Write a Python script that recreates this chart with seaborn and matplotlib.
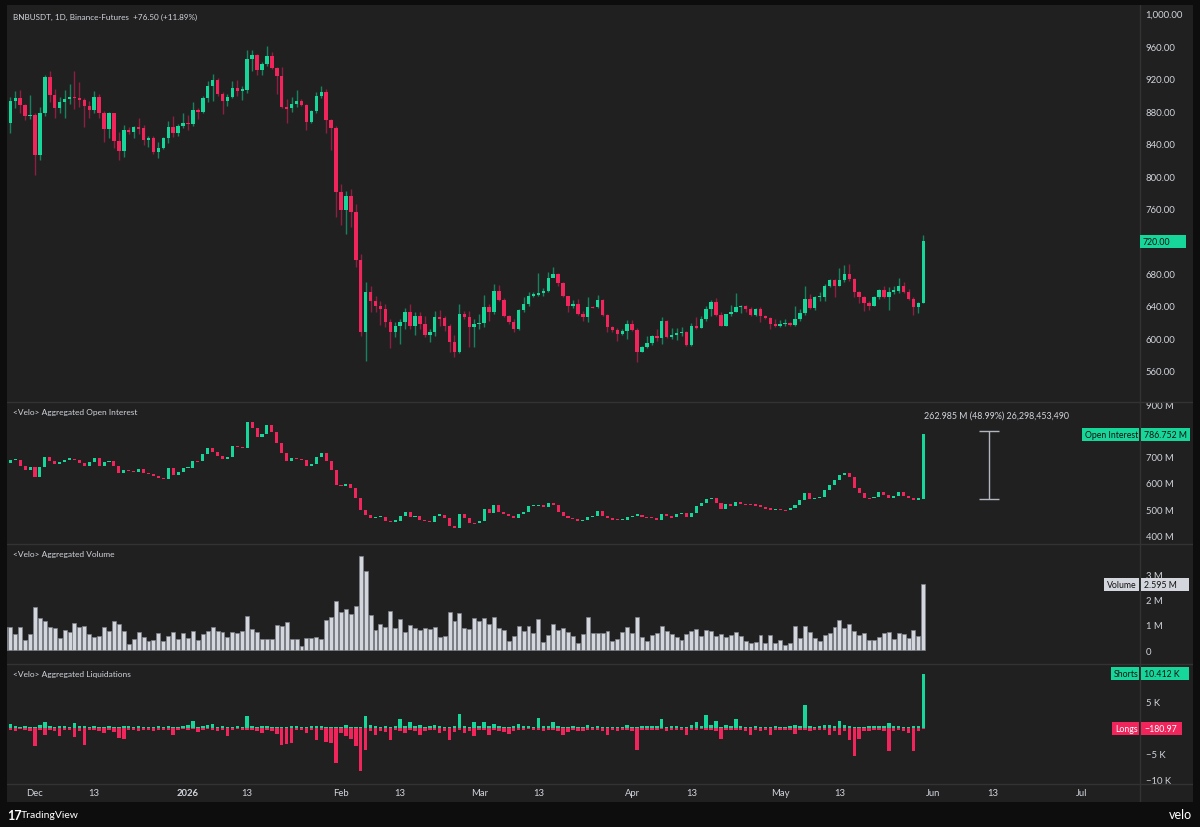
import numpy as np
import pandas as pd
import matplotlib
matplotlib.use("Agg")
import matplotlib.pyplot as plt
from matplotlib.patches import Rectangle
from matplotlib.lines import Line2D
import seaborn as sns

# ==============================
# Data (days counted from 2025-12-01, one daily candle each)
# ==============================
day = list(range(-6, 181))

price_open0 = 867.0
price_close = [
    865, 891.9, 895.6, 887.8, 873.4, 875, 826.2, 877, 921.4, 900,
    883.3, 890.7, 894.8, 897.6, 896.5, 893.5, 885.7, 881, 897.6, 877.5,
    857.8, 877.5, 843, 830.3, 856.6, 854.5, 859.9, 858.7, 844.7, 847.2,
    829, 834.9, 846.4, 859.9, 852.5, 861.9, 865.2, 864, 881.6, 879.2,
    895.6, 911.2, 918.5, 900.9, 891.9, 897.6, 908.3, 905, 906, 944,
    949, 931, 937.8, 947.3, 932.5, 923.5, 884.5, 883.7, 888.6, 891.9,
    887.8, 866, 880.4, 898.8, 903.8, 868.9, 858.6, 780.7, 758.6, 775,
    755.3, 697, 608.4, 656.8, 646.5, 639.6, 636.3, 619.9, 608.4, 615,
    619.9, 633, 615, 628.1, 617.8, 604.3, 608.4, 626.1, 624.8, 615,
    596, 583, 630.2, 626, 613.7, 617.8, 618.6, 638.4, 633, 658.9,
    647.8, 627.3, 619.9, 611.7, 635, 642.5, 652.7, 653.5, 656, 658,
    674, 679.4, 668.3, 651.9, 639.6, 642.4, 630.2, 626.1, 639.2, 638.4,
    647.8, 629, 613.7, 610.8, 605.5, 609.6, 617.8, 610.9, 583.8, 590,
    594.5, 602.7, 600.6, 622, 601.4, 604.3, 606.8, 608.4, 592, 615.8,
    612.5, 624, 636.3, 644.5, 628.9, 615.8, 630.2, 633, 638.4, 639.6,
    636.3, 628.9, 636.3, 627.3, 624.8, 617.8, 615.8, 617.8, 619.1, 616.6,
    624, 631.4, 648.6, 637.1, 650.7, 651.5, 665, 672.4, 665, 672.4,
    679.4, 673.2, 656.8, 650.7, 643.7, 640.4, 650.7, 659.7, 650.7, 657.6,
    658.0, 664.2, 656.8, 648.6, 638.4, 643.4, 719.9,
]
price_high = [
    870, 897.6, 905, 906, 889, 900, 877.5, 884.5, 924.3, 928.8,
    907, 897.6, 905.8, 913, 928.8, 916, 895.6, 892.7, 905, 900.9,
    880.4, 879, 876.3, 853.7, 862.8, 860, 861, 871.8, 862.8, 849.6,
    849.6, 841.4, 847.6, 868, 873.4, 864, 877.5, 875, 891.5, 883.3,
    898, 917.3, 925.5, 920.2, 903, 900.9, 916.5, 918, 911, 955,
    955.5, 950, 940, 960.4, 953, 933.7, 933.7, 894.8, 897.6, 905.8,
    894.8, 888.6, 881.6, 903, 911.2, 907, 870, 861, 790, 782,
    784, 765.5, 704, 670, 664, 652.7, 646.5, 642.4, 624, 620.7,
    624, 637.1, 642.4, 632.2, 632.2, 628.1, 611.7, 634.3, 635.5, 628.1,
    617.9, 604.3, 642.5, 634.3, 634.3, 624, 630.2, 653.5, 642.5, 667.1,
    665.8, 649.4, 628.9, 624, 636.3, 650.7, 657.6, 657.6, 680.6, 661.7,
    681.4, 687.6, 680.6, 669.1, 652.7, 647.8, 648.6, 634.3, 650.7, 640.4,
    653.5, 648.6, 630.2, 615.8, 612.5, 611.7, 622.8, 623.2, 612.5, 591.2,
    603.5, 604.3, 611.7, 626.1, 623.2, 612.5, 612.5, 613.7, 609.6, 618.7,
    626.1, 628.1, 639.6, 647.8, 649.4, 632.2, 630.2, 641.2, 656, 641.2,
    641.2, 638.4, 637.1, 638.4, 628.9, 626.1, 624, 623.2, 624, 619.9,
    639.6, 636.3, 665, 654.8, 652.7, 657.6, 667.1, 673.2, 673.2, 686.4,
    690.5, 691.7, 674, 658.9, 651.9, 646.6, 652.7, 660.9, 664.2, 663,
    664.2, 674, 669.1, 660.9, 650.7, 645.3, 727.4,
]
price_low = [
    858, 852.5, 884, 877, 869, 870, 801.6, 820, 874, 890.7,
    871, 878, 871, 888.6, 882.4, 884.5, 859.9, 871, 877.5, 871,
    841.4, 846.4, 834, 819.7, 823, 851.7, 846.4, 851.7, 838, 835.3,
    827, 821.7, 833.2, 840.6, 847.6, 849.6, 858.7, 857, 861, 870,
    877.5, 890.7, 892.7, 898.8, 876.3, 886.6, 895.6, 898, 894, 902,
    929.6, 924.3, 924.3, 935.8, 931.7, 900.9, 884, 864.8, 878.4, 884.5,
    886.6, 857, 865.2, 877.5, 895.6, 852.9, 832.4, 749.2, 739.7, 728.6,
    736.8, 687.6, 603.5, 572.3, 632.2, 632.2, 616.6, 613.7, 587.9, 601.4,
    593.2, 611.7, 611.7, 604.3, 611.7, 601.4, 596.1, 602.7, 615.8, 609.6,
    583.8, 577.6, 582.2, 624, 589.1, 589.1, 611.7, 613.7, 622, 630.2,
    646.6, 626.1, 617.9, 608.4, 610.9, 633, 640.4, 650.7, 651.9, 651.9,
    656.8, 675.3, 665, 650.7, 633, 637.1, 628.9, 621.9, 620.7, 637.1,
    637.1, 628.1, 607.6, 607.6, 597.3, 604.3, 599.4, 609.6, 571.5, 583,
    587.9, 592, 597.3, 593.2, 600.2, 599.4, 598.6, 603.5, 591.2, 591.2,
    611.7, 612.5, 622, 627.3, 627.3, 615, 615.8, 628.1, 632.2, 631.4,
    633, 628.1, 628.1, 620.7, 624, 611.7, 614.6, 613.7, 615, 615.8,
    615.8, 622, 628.9, 636.3, 635.5, 646.6, 646.6, 663, 650.7, 664.2,
    669.1, 671.2, 650.7, 643.7, 634.3, 635.5, 639.6, 648.6, 649.4, 635.5,
    654.8, 656, 656, 647.8, 628.9, 631.4, 643.7,
]

# aggregated open interest, millions
oi_open0 = 670.0
oi_close = [
    677, 688.5, 688.5, 666.7, 650, 660.3, 624.4, 660.3, 701.3, 683.4,
    673, 682, 689.8, 692.3, 687, 677, 664, 679.5, 696, 666.7,
    679.5, 686, 666.7, 638.5, 651.3, 646, 643.6, 653.9, 638.5, 633.4,
    625.7, 618, 615.4, 657.7, 632, 641, 656.4, 657.7, 683.4, 683,
    711.6, 733.3, 718, 702.6, 692.3, 698.7, 743.6, 737.2, 734.7, 835.9,
    810.3, 775.7, 788.5, 823.1, 797.5, 753.9, 714.1, 685.9, 696.2, 692.3,
    689.8, 666.7, 673, 698.7, 715.4, 685.9, 650, 593.6, 589.8, 596,
    579.5, 542.3, 496.2, 476.9, 464.1, 467.9, 468, 455, 451.3, 455,
    474.4, 487.2, 468, 474.4, 459, 452.6, 451.3, 474.4, 478, 464.1,
    435.9, 425.6, 480.8, 464.1, 446.2, 446, 455, 500, 483.3, 515.4,
    487.2, 480.8, 474.4, 464.1, 480.8, 487.2, 510.3, 512.8, 515.4, 506.4,
    521.8, 515.4, 489.7, 474.4, 465.4, 463, 452.6, 457.7, 467.9, 474.4,
    491, 471.8, 464.1, 461.5, 456.4, 459, 467.9, 474.4, 478, 470.5,
    469.9, 466.7, 459, 480.8, 471.8, 467.9, 480.8, 484.6, 467.9, 484.6,
    510.3, 523.1, 538.5, 541, 521.8, 500, 519.2, 512.8, 525.6, 520.5,
    519, 517.9, 515.4, 506.4, 503.8, 497.4, 501, 497.4, 496, 502.6,
    515.4, 534.6, 561.5, 538.5, 541, 545, 573, 593.6, 611.6, 630.8,
    638.5, 624.4, 579.5, 561.5, 542.3, 541, 547.4, 566.7, 555.1, 541,
    551.3, 564.1, 548.7, 542.3, 535.9, 540, 786.75,
]

# aggregated volume, millions
volume = [
    0.9, 0.92, 0.63, 0.92, 0.40, 0.63, 1.69, 1.26, 1.16, 0.90,
    0.86, 0.46, 0.79, 0.70, 1.05, 0.92, 0.95, 0.63, 0.50, 0.55,
    0.92, 0.74, 1.13, 1.01, 0.76, 0.24, 0.42, 0.70, 0.53, 0.37,
    0.41, 0.67, 0.37, 0.57, 0.70, 0.42, 0.66, 0.47, 0.76, 0.40,
    0.63, 0.76, 0.91, 0.76, 0.72, 0.51, 0.72, 0.67, 0.74, 1.36,
    0.82, 0.72, 0.42, 0.42, 0.42, 0.99, 0.96, 1.09, 0.45, 0.45,
    0.17, 0.49, 0.49, 0.51, 0.45, 1.19, 1.32, 1.94, 1.52, 1.62,
    1.42, 1.74, 3.70, 3.14, 1.38, 0.80, 1.03, 0.92, 1.55, 0.87,
    1.23, 0.72, 0.97, 0.87, 0.78, 0.87, 0.82, 0.92, 0.53, 0.55,
    1.52, 1.16, 1.48, 0.87, 0.83, 1.26, 1.16, 1.26, 1.03, 1.29,
    0.87, 0.79, 0.37, 0.57, 0.95, 0.74, 0.94, 0.67, 1.23, 0.30,
    0.61, 1.03, 0.79, 0.87, 0.72, 0.57, 0.29, 0.63, 1.32, 0.67,
    0.67, 0.66, 0.74, 0.37, 0.42, 0.71, 0.90, 0.66, 1.29, 0.50,
    0.34, 0.58, 0.69, 0.95, 0.74, 0.63, 0.50, 0.38, 0.63, 0.76,
    0.82, 0.57, 0.79, 0.74, 0.54, 0.63, 0.50, 0.58, 0.70, 0.55,
    0.37, 0.28, 0.33, 0.61, 0.29, 0.61, 0.29, 0.38, 0.21, 0.29,
    0.95, 0.47, 0.95, 0.71, 0.47, 0.36, 0.59, 0.67, 0.90, 1.17,
    0.86, 1.04, 0.74, 0.61, 0.69, 0.40, 0.41, 0.53, 0.67, 0.71,
    0.43, 0.66, 0.62, 0.49, 0.80, 0.57, 2.595,
]

# aggregated liquidations, thousands (shorts up, longs down)
liq_shorts = [
    0.8, 0.8, 0.4, 0.2, 0.3, 0.2, 0.1, 0.5, 1.15, 0.3,
    0.2, 0.3, 0.4, 0.2, 0.95, 0.3, 0.45, 0.2, 0.3, 0.1,
    0.2, 0.3, 0.1, 0.2, 0.45, 0.3, 0.2, 0.3, 0.2, 0.1,
    0.2, 0.3, 0.2, 0.3, 0.1, 0.2, 0.3, 0.5, 1.4, 0.2,
    0.3, 0.6, 0.75, 0.2, 0.3, 0.1, 0.2, 0.3, 0.2, 2.24,
    0.4, 0.2, 0.3, 0.45, 0.2, 0.1, 0.1, 0.2, 0.3, 0.3,
    0.2, 0.1, 0.3, 0.4, 0.3, 0.1, 0.1, 0.1, 0.2, 0.6,
    0.2, 0.1, 0.2, 2.24, 0.5, 0.3, 0.2, 0.45, 0.2, 0.3,
    1.8, 0.3, 1.15, 0.3, 0.6, 0.2, 0.3, 0.5, 0.3, 0.2,
    0.2, 0.3, 2.7, 0.3, 0.2, 1.15, 0.3, 1.15, 0.4, 0.75,
    0.3, 0.2, 0.2, 0.3, 0.75, 0.4, 0.3, 0.2, 1.9, 0.3,
    0.4, 1.15, 0.3, 0.2, 0.2, 0.3, 0.2, 0.2, 0.5, 0.2,
    0.3, 0.2, 0.1, 0.2, 0.1, 0.2, 0.6, 0.2, 0.1, 0.3,
    0.3, 0.4, 0.3, 1.8, 0.2, 0.3, 0.3, 0.2, 0.1, 0.5,
    1.15, 0.4, 2.56, 0.6, 1.3, 0.2, 0.5, 0.4, 1.8, 0.3,
    0.2, 0.2, 0.3, 0.2, 0.2, 0.2, 0.3, 0.2, 0.2, 0.3,
    0.6, 0.4, 4.36, 0.3, 0.2, 0.3, 0.6, 0.6, 0.3, 1.3,
    0.6, 0.3, 0.2, 0.2, 0.2, 0.3, 0.3, 0.4, 0.3, 0.96,
    0.3, 0.4, 0.2, 0.2, 0.45, 0.3, 10.412,
]
liq_longs = [
    -0.4, -0.3, -0.5, -0.2, -0.3, -0.6, -3.5, -0.4, -1.3, -0.3,
    -0.5, -1.6, -0.4, -0.3, -1.8, -0.5, -3.2, -0.4, -0.3, -0.5,
    -1.0, -0.4, -0.8, -1.9, -2.1, -0.3, -0.4, -0.5, -0.3, -0.3,
    -0.6, -0.3, -0.4, -0.3, -1.4, -0.3, -0.2, -0.3, -0.2, -0.8,
    -0.3, -0.2, -0.3, -0.5, -0.4, -1.6, -0.3, -0.2, -0.4, -0.3,
    -0.3, -0.6, -1.0, -0.3, -0.5, -1.2, -3.2, -3.1, -2.9, -0.4,
    -0.3, -0.9, -0.3, -2.4, -0.3, -2.7, -2.9, -6.7, -1.0, -1.6,
    -2.1, -3.5, -8.3, -4.2, -0.6, -1.3, -0.5, -0.8, -2.4, -0.4,
    -0.5, -1.0, -0.3, -0.5, -1.3, -0.6, -0.4, -0.3, -1.0, -0.5,
    -2.4, -0.8, -0.3, -1.0, -0.5, -1.6, -0.4, -0.3, -1.3, -0.4,
    -0.5, -0.8, -1.15, -0.6, -0.3, -0.3, -0.2, -0.4, -0.3, -0.5,
    -0.3, -0.3, -0.5, -1.4, -0.8, -0.3, -0.6, -0.5, -0.3, -0.4,
    -0.3, -0.6, -1.3, -0.4, -0.6, -0.3, -0.3, -0.5, -4.2, -0.4,
    -0.3, -0.3, -0.4, -0.2, -0.5, -0.3, -0.3, -0.4, -1.3, -0.3,
    -0.3, -0.2, -0.3, -0.3, -0.5, -2.2, -0.4, -0.3, -0.3, -0.3,
    -0.5, -1.3, -0.3, -0.6, -0.4, -1.4, -0.3, -0.3, -0.4, -0.3,
    -1.15, -0.3, -0.3, -0.5, -0.3, -0.3, -0.3, -1.3, -0.6, -1.3,
    -0.5, -2.4, -5.4, -2.2, -0.6, -0.5, -0.3, -0.3, -0.5, -4.4,
    -0.5, -0.4, -0.5, -1.0, -4.4, -0.6, -0.18,
]

date_ticks = [0, 12, 31, 43, 62, 74, 90, 102, 121, 133, 151, 163, 182, 194, 212]
date_labels = ["Dec", "13", "2026", "13", "Feb", "13", "Mar", "13",
               "Apr", "13", "May", "13", "Jun", "13", "Jul"]

# ==============================
# Style
# ==============================
PANE = "#202020"
OUTER = "#0d0d0d"
SEP = "#333333"
TEXT = "#d1d4dc"
UP = "#16d69a"
DOWN = "#f2245c"
UP_WICK = "#178260"
DOWN_WICK = "#8e1f40"
VOL = "#d4d6dd"

sns.set_style("dark", {"axes.facecolor": PANE, "figure.facecolor": PANE})
plt.rcParams["font.family"] = ["Lato", "DejaVu Sans"]
FS = 6.8   # axis numbers
FT = 6.0   # pane titles and tags

W_PX, H_PX = 1200, 828
fig = plt.figure(figsize=(12, 8.28), dpi=100, facecolor=PANE)

X0, X1 = 7, 1140


def add_pane(top, bottom):
    ax = fig.add_axes([X0 / W_PX, 1 - bottom / H_PX, (X1 - X0) / W_PX, (bottom - top) / H_PX])
    ax.set_facecolor(PANE)
    for s in ax.spines.values():
        s.set_visible(False)
    ax.grid(False)
    ax.yaxis.tick_right()
    ax.tick_params(axis="x", length=0, labelbottom=False)
    return ax


ax_p = add_pane(6, 403)
ax_oi = add_pane(403, 545)
ax_v = add_pane(545, 665)
ax_l = add_pane(665, 785)

x = np.array(day, dtype=float)


def candles(ax, o, h, l, c, width, min_h, wicks=True):
    o = np.asarray(o, float)
    c = np.asarray(c, float)
    up = c >= o
    if wicks:
        ax.vlines(x, l, h, colors=np.where(up, UP_WICK, DOWN_WICK), linewidth=1.0, zorder=2)
    body = c - o
    body = np.where(np.abs(body) < min_h, np.where(up, min_h, -min_h), body)
    ax.bar(x, body, bottom=o, width=width, color=np.where(up, UP, DOWN), linewidth=0, zorder=3)


# price candles
p_open = [price_open0] + price_close[:-1]
candles(ax_p, p_open, price_high, price_low, price_close, 0.7, 1.6)
ax_p.set_ylim(521.8, 1010.5)
pt = [560, 600, 640, 680, 760, 800, 840, 880, 920, 960, 1000]
ax_p.set_yticks(pt)
ax_p.set_yticklabels([f"{v:,.2f}" for v in pt])

# open interest candles
o_open = [oi_open0] + oi_close[:-1]
candles(ax_oi, o_open, None, None, oi_close, 0.62, 4.5, wicks=False)
ax_oi.set_ylim(365.4, 911.5)
ot = [400, 500, 600, 700, 900]
ax_oi.set_yticks(ot)
ax_oi.set_yticklabels([f"{v} M" for v in ot])

# measure tool
mx = 193.3
ax_oi.vlines(mx, 536.8, 799.8, color="#b2b5be", linewidth=1.0)
ax_oi.hlines([536.8, 799.8], mx - 2.1, mx + 2.1, color="#b2b5be", linewidth=1.0)

# volume
vol_df = pd.DataFrame({"day": day, "volume": volume})
sns.barplot(data=vol_df, x="day", y="volume", native_scale=True, color=VOL,
            saturation=1, width=0.8, errorbar=None, edgecolor="#7d808a",
            linewidth=0.5, ax=ax_v)
ax_v.set_ylim(-0.553, 4.19)
ax_v.set_yticks([0, 1, 2, 3])
ax_v.set_yticklabels(["0", "1 M", "2 M", "3 M"])

# liquidations
liq_df = pd.DataFrame({"day": day, "shorts": liq_shorts, "longs": liq_longs})
sns.barplot(data=liq_df, x="day", y="shorts", native_scale=True, color=UP,
            saturation=1, width=0.7, errorbar=None, linewidth=0, ax=ax_l)
sns.barplot(data=liq_df, x="day", y="longs", native_scale=True, color=DOWN,
            saturation=1, width=0.7, errorbar=None, linewidth=0, ax=ax_l)
ax_l.set_ylim(-10.77, 12.3)
ax_l.set_yticks([-10, -5, 5])
ax_l.set_yticklabels(["\u221210 K", "\u22125 K", "5 K"])

for ax in (ax_p, ax_oi, ax_v, ax_l):
    ax.set_xlim(-5.67, 223.9)
    ax.set_xlabel("")
    ax.set_ylabel("")
    ax.tick_params(axis="y", length=0, pad=4, labelsize=FS, labelcolor=TEXT)

ax_l.set_xticks(date_ticks)
ax_l.set_xticklabels(date_labels)
ax_l.tick_params(axis="x", length=0, labelbottom=True, pad=3, labelsize=FS, labelcolor=TEXT)
for lab in ax_l.get_xticklabels():
    if lab.get_text() == "2026":
        lab.set_fontweight("bold")

# ==============================
# Frame, separators and labels
# ==============================
def fig_rect(x0, y0, x1, y1, color, z=5):
    fig.patches.append(Rectangle((x0 / W_PX, 1 - y1 / H_PX), (x1 - x0) / W_PX, (y1 - y0) / H_PX,
                                 transform=fig.transFigure, fc=color, ec="none", zorder=z))


def fig_line(x0, y0, x1, y1, color=SEP, lw=1.0):
    fig.lines.append(Line2D([x0 / W_PX, x1 / W_PX], [1 - y0 / H_PX, 1 - y1 / H_PX],
                            transform=fig.transFigure, color=color, linewidth=lw, zorder=4))


fig_rect(0, 0, 1200, 6, OUTER)
fig_rect(0, 0, 7, 828, OUTER)
fig_rect(1193, 0, 1200, 828, OUTER)
fig_rect(0, 803, 1200, 828, OUTER)

for yy in (403, 545, 665, 785):
    fig_line(7, yy, 1193, yy)
fig_line(1140, 6, 1140, 803)


def ftext(xp, yp, s, **kw):
    kw.setdefault("fontsize", FT)
    kw.setdefault("color", TEXT)
    kw.setdefault("va", "center")
    fig.text(xp / W_PX, 1 - yp / H_PX, s, zorder=7, **kw)


def tag(ax, val, label, fc, tc, x0, x1, h=13):
    yd = ax.transData.transform((0, val))[1]
    yp = H_PX - yd
    fig_rect(x0, yp - h / 2, x1, yp + h / 2, fc, z=6)
    ftext(x0 + 3, yp, label, color=tc, fontsize=FT + 0.3)


ftext(13, 17, "BNBUSDT, 1D, Binance-Futures  +76.50 (+11.89%)", fontsize=5.9)
ftext(13, 413, "<Velo> Aggregated Open Interest")
ftext(13, 555, "<Velo> Aggregated Volume")
ftext(13, 675, "<Velo> Aggregated Liquidations")
ftext(924, 416, "262.985 M (48.99%) 26,298,453,490", fontsize=6.4)

tag(ax_p, price_close[-1], "720.00", UP, "#111111", 1140, 1186)
tag(ax_oi, 786.752, "Open Interest", UP, "#111111", 1082, 1139)
tag(ax_oi, 786.752, "786.752 M", UP, "#111111", 1141, 1190)
tag(ax_v, 2.595, "Volume", VOL, "#111111", 1104, 1139)
tag(ax_v, 2.595, "2.595 M", VOL, "#111111", 1141, 1189)
tag(ax_l, 10.412, "Shorts", UP, "#111111", 1111, 1139)
tag(ax_l, 10.412, "10.412 K", UP, "#111111", 1141, 1189)
tag(ax_l, -0.18097, "Longs", DOWN, "white", 1112, 1139)
tag(ax_l, -0.18097, "\u2212180.97", DOWN, "white", 1141, 1182)

ftext(7, 816, "17", fontsize=9, fontweight="bold", color="white")
ftext(21, 816, "TradingView", fontsize=7.5, color="white")
ftext(1192, 815, "velo", fontsize=9, color="white", ha="right")

fig.savefig("out.png", dpi=100, facecolor=PANE)
